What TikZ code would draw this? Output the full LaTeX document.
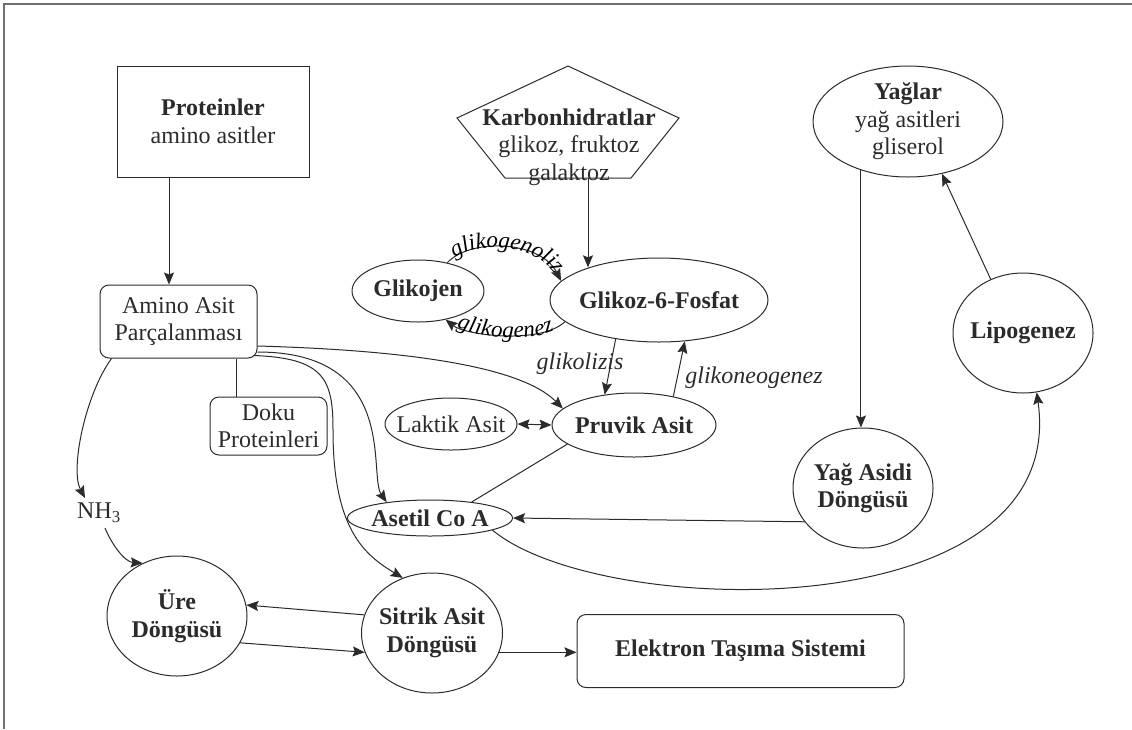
\documentclass[tikz,border=0pt]{standalone}
\usepackage{fontspec}
\setmainfont{Liberation Serif}
\usetikzlibrary{arrows.meta,shapes.geometric,decorations.text}
\definecolor{ink}{HTML}{2B2B2B}
\definecolor{framec}{HTML}{707070}
\begin{document}
\begin{tikzpicture}[x=1pt,y=-1pt,
  every node/.style={text=ink, font=\fontsize{24}{27.5}\selectfont},
  conn/.style={draw=ink, line width=1pt},
  arr/.style={conn, -{Stealth[length=12pt,width=10pt,inset=2pt]}},
  arrboth/.style={conn, {Stealth[length=12pt,width=10pt,inset=2pt]}-{Stealth[length=12pt,width=10pt,inset=2pt]}},
  ell/.style={ellipse, draw=ink, line width=1pt, inner xsep=-10pt, inner ysep=0pt, align=center},
  rbox/.style={rectangle, rounded corners=9pt, draw=ink, line width=1pt, inner sep=0pt, align=center},
  lbl/.style={font=\fontsize{24}{27.5}\selectfont\itshape, inner sep=0pt},
  pathtext/.style={decorate, color=ink, decoration={text along path, text align=center, raise=#1}}
]
\useasboundingbox (0,0) rectangle (1132,729);
\draw[framec, line width=1.5pt] (4,729) -- (4,4) -- (1132,4);

% nodes
\node[rectangle, draw=ink, line width=1pt, minimum width=192pt, minimum height=111pt, align=center] (prot) at (213,121.5) {\textbf{Proteinler}\\amino asitler};
\draw[conn] (568,66) -- (679,118) -- (631,178) -- (505,178) -- (457,118) -- cycle;
\node[align=center, inner sep=0pt] (karb) at (569,147) {\textbf{Karbonhidratlar}\\glikoz, fruktoz\\galaktoz};
\coordinate (karbb) at (588,178);

\node[ell, minimum width=190pt, minimum height=111pt] (yaglar) at (908,121.5) {\textbf{Yağlar}\\yağ asitleri\\gliserol};
\node[rbox, minimum width=157pt, minimum height=73pt] (amino) at (178.5,321.5) {Amino Asit\\Parçalanması};
\node[rbox, minimum width=117pt, minimum height=58pt] (doku) at (268.5,426) {Doku\\Proteinleri};
\node[ell, minimum width=132pt, minimum height=62pt] (glikojen) at (418,291) {\textbf{Glikojen}};
\node[ell, minimum width=218pt, minimum height=84pt] (glikoz) at (659,300) {\textbf{Glikoz-6-Fosfat}};
\node[ell, minimum width=132pt, minimum height=52pt] (laktik) at (451,424) {Laktik Asit};
\node[ell, minimum width=164pt, minimum height=64pt] (pruvik) at (634,425) {\textbf{Pruvik Asit}};
\node[ell, minimum width=165pt, minimum height=36pt] (asetil) at (430,518) {\textbf{Asetil Co A}};
\node[ell, minimum width=140pt, minimum height=120pt] (lipo) at (1023,333) {\textbf{Lipogenez}};
\node[ell, minimum width=140pt, minimum height=120pt] (yagasidi) at (863,488) {\textbf{Yağ Asidi}\\\textbf{Döngüsü}};
\node[ell, minimum width=140pt, minimum height=120pt] (ure) at (177,616) {\textbf{Üre}\\\textbf{Döngüsü}};
\node[ell, minimum width=141pt, minimum height=120pt] (sitrik) at (432,633) {\textbf{Sitrik Asit}\\\textbf{Döngüsü}};
\node[rbox, minimum width=327pt, minimum height=73pt] (elektron) at (740.5,651) {\textbf{Elektron Taşıma Sistemi}};
\node[anchor=north west, inner sep=0pt] (nh3) at (77,503) {NH\textsubscript{3}};

\node[lbl] (lglik) at (580,364) {glikolizis};
\node[lbl] (lneo) at (754,378) {glikoneogenez};

% connectors
\draw[arr] ([xshift=-44pt]prot.south) -- ([xshift=-44pt]prot.south |- amino.north);
\draw[arr] (karbb) -- (karbb |- glikoz.155);

\draw[arr] (glikojen.44) .. controls (470,238) and (540,240) .. (glikoz.169);
\path[pathtext=-1pt, decoration={text={|\fontsize{23}{28}\selectfont\itshape|glikogenoliz}}]
  (glikojen.44) .. controls (470,238) and (540,240) .. (glikoz.169);

\draw[arr] (glikoz.193) .. controls (540,345) and (465,335) .. (glikojen.-46);
\path[pathtext=-2pt, decoration={text={|\fontsize{23}{28}\selectfont\itshape|glikogenez}}]
  (glikojen.-46) .. controls (465,335) and (540,345) .. (glikoz.193);

\draw[arr] (glikoz.-138) -- (pruvik.134);
\draw[arr] (pruvik.36) -- (glikoz.-58);
\draw[arrboth] (laktik.east) -- (pruvik.west);
\draw[conn] (pruvik.-164) -- (asetil.21);
\draw[arr] (yagasidi.210) -- (asetil.east);
\draw[arr] (yaglar.226) -- (yaglar.226 |- yagasidi.north);
\draw[arr] (lipo.121) -- (yaglar.-57);
\draw[arr] (asetil.-11) .. controls (600,620) and (1070,630) .. (lipo.-77);

\draw[arr] ([xshift=12pt]amino.south west) .. controls (85,395) and (70,470) .. ([xshift=8pt,yshift=5pt]nh3.north west);
\draw[arr] ([xshift=28pt,yshift=-5pt]nh3.south west) .. controls (112,545) and (125,562) .. (ure.123);
\draw[conn] ([xshift=57.5pt]amino.south) -- ([xshift=57.5pt]amino.south |- doku.north);
\draw[arr] ([yshift=-24.5pt]amino.east) .. controls (400,350) and (520,365) .. (pruvik.167);
\draw[arr] ([yshift=-30.5pt]amino.east) .. controls (400,352) and (368,475) .. (asetil.160);
\draw[arr] ([xshift=-4pt,yshift=3pt]amino.south east) .. controls (325,358) and (333,380) .. (333,430)
  .. controls (333,530) and (365,555) .. (sitrik.118);

\draw[arr] (sitrik.165) -- (ure.9);
\draw[arr] (ure.-23) -- (sitrik.-164);
\draw[arr] (sitrik.-16) -- (sitrik.-16 -| elektron.west);
\end{tikzpicture}
\end{document}
